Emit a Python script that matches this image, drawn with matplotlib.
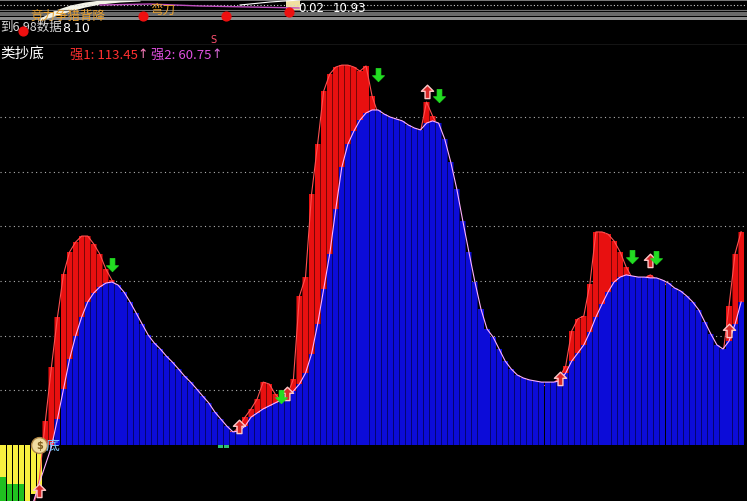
import numpy as np
import matplotlib
matplotlib.use('Agg')
import matplotlib.pyplot as plt
from matplotlib.path import Path

plt.rcParams['font.family'] = ['Noto Sans CJK SC', 'DejaVu Sans']

# ---------------- data ----------------
red_vals = [
    -45, -42, -38, -34, -29, -23, -12.4, 8.8, 28.5, 46.8,
    62.5, 70.6, 74.2, 76.4, 76.4, 73.5, 69.8, 64.3, 60.3, 57,
    53, 48, 44, 40, 36, 33, 31, 29, 27, 24.5,
    22, 20, 17.5, 15, 12.5, 10, 7.5, 5.5, 4.5, 6.6,
    10.2, 13.2, 16.8, 23.0, 22.3, 18.6, 16.1, 18.3, 24.1, 54.5,
    61.4, 91.8, 110, 129.4, 135.6, 138.2, 138.9, 138.9, 138.2, 136.7,
    138.6, 127.6, 121, 118, 116, 115, 114, 113.5, 113, 114.5,
    125.4, 120.3, 116, 108, 98, 87, 75, 63, 53, 45,
    38, 35, 31, 27, 25, 23, 22, 21.5, 21.5, 21.5,
    22, 22.5, 24.9, 28.9, 41.7, 46.1, 47.2, 58.9, 77.9, 77.9,
    77.1, 74.6, 70.6, 65.1, 61, 60.5, 61, 62.2, 60.5, 59.5,
    58, 56, 54, 51.5, 49, 45, 40, 35, 32, 33,
    50.8, 70.0, 78.0,
]
blue_vals = [
    -40, -37, -34, -31, -27, -21, -13.9, -7.3, -0.7, 9.5,
    20.5, 31.4, 39.9, 46.8, 52.3, 55.6, 57.8, 59.2, 59.6, 58.5,
    55.9, 52.3, 48.3, 44.2, 40.2, 37.3, 35.1, 32.5, 30.3, 27.8,
    25.2, 23.0, 20.5, 17.9, 15.4, 12.1, 9.5, 6.9, 4.8, 5.1,
    6.9, 10.2, 11.7, 13.2, 14.3, 15.4, 16.5, 17.9, 19.7, 22.3,
    26.3, 33.3, 44.2, 57.0, 69.8, 86.3, 101.6, 110.0, 114.8, 118.8,
    121.4, 122.5, 122.5, 121.0, 119.9, 119.2, 118.5, 117.0, 115.9, 115.2,
    117.7, 118.5, 117.7, 111.9, 103.5, 93.6, 81.9, 70.6, 59.6, 49.7,
    42.4, 39.5, 35.1, 30.7, 27.8, 25.6, 24.5, 23.8, 23.4, 23.0,
    23.0, 23.0, 23.4, 26.3, 30.7, 33.6, 36.6, 41.3, 46.8, 51.5,
    55.9, 59.6, 61.4, 62.2, 61.8, 61.4, 61.4, 61.1, 61.1, 60.3,
    59.2, 57.4, 56.3, 54.5, 52.3, 49.4, 45.0, 40.6, 36.6, 35.1,
    38.0, 44.2, 52.3,
]
yellow_vals = [-11.7, -14.3, -14.3, -14.3, -24, -18, -16]
green_vals = [-26, -26, -26, -25]
mark_idx = [36, 37]
mark_vals = [-1.1, -1.1]

up_idx = [6, 39, 47, 70, 92, 107, 120]
up_vals = [-16.8, 6.6, 18.6, 129.0, 24.1, 67.3, 41.7]
down_idx = [18, 46, 62, 72, 104, 108]
down_vals = [66.2, 17.9, 135.6, 128.0, 69.1, 68.7]
coin_idx = 6

title = "类抄底"
s1_label = "强1: 113.45"
s2_label = "强2: 60.75"

# top strip (partial upper panel)
price_x = [40, 55, 70, 85, 100, 120, 140]
price_hi = [19, 11, 6, 3, 1, 0, 0]
price_lo = [21, 17, 12, 8, 5, 3, 2]
ma_x = [100, 150, 200, 250, 300]
ma_y = [6, 5, 7, 8, 9]
sig_x = [23, 143, 226, 289]
sig_y = [32, 17, 17, 13]

# ---------------- figure ----------------
W, H = 747, 502
fig = plt.figure(figsize=(W / 100, H / 100), dpi=100, facecolor='black')

px = 20 / 54.7
ax = fig.add_axes([0, 0, 1, 456 / H])
ax.set_facecolor('black')
ax.set_xlim(-0.5, W / 6.05 - 0.5)
ax.set_ylim((446 - 502) * px, (446 - 46) * px)
ax.axis('off')

n = len(red_vals)
idx = np.arange(n)
red = np.array(red_vals, float)
blue = np.array(blue_vals, float)
bw = 0.84

for g in [20, 40, 60, 80, 100, 120]:
    ax.axhline(g, color='#b0b0b0', lw=0.8, ls=(0, (1, 3)), zorder=0.5)

# yellow / green (below zero)
ax.bar(np.arange(len(green_vals)), green_vals, width=bw, color='#20c020', lw=0, zorder=1)
ax.bar(np.arange(len(yellow_vals)), yellow_vals, width=bw, color='#f8f040', lw=0, zorder=1.2)

# red bars: dark underlay + bright bars
red_pos = np.clip(red, 0, None)
ax.bar(idx, red_pos, width=1.0, color='#7a0606', lw=0, zorder=1.8)
ax.bar(idx, red_pos, width=bw, color='#e81010', lw=0, zorder=2)
ax.plot(idx, red, color='#ff5050', lw=0.8, zorder=2.5)

# blue bars: dark underlay + bright bars
blue_pos = np.clip(blue, 0, None)
ax.bar(idx, blue_pos, width=1.0, color='#05056e', lw=0, zorder=2.8)
ax.bar(idx, blue_pos, width=bw, color='#0c0cd8', lw=0, zorder=3)
ax.plot(idx, blue, color='#ffb0ff', lw=0.8, zorder=4)
ax.bar(mark_idx, mark_vals, width=bw, color='#30c070', lw=0, zorder=3)

up_path = Path([(-0.5, 0.1), (0, 0.6), (0.5, 0.1), (0.2, 0.1), (0.2, -0.5),
                (-0.2, -0.5), (-0.2, 0.1), (-0.5, 0.1)], closed=True)
down_path = Path([(x, -y) for x, y in up_path.vertices], closed=True)
ax.scatter(up_idx, up_vals, marker=up_path, s=110, facecolor='#d82828',
           edgecolor='#ffc8c8', linewidths=1.0, zorder=6)
ax.scatter(down_idx, down_vals, marker=down_path, s=110, facecolor='#22dd22',
           edgecolor='#22dd22', linewidths=0.5, zorder=6)

ax.scatter([coin_idx], [0], s=130, facecolor='#f0dca0', edgecolor='#b08848',
           linewidths=1.0, zorder=7)
ax.text(coin_idx, 0, '$', color='#806020', fontsize=7, ha='center', va='center',
        zorder=8, family='DejaVu Sans', fontweight='bold')
ax.text(coin_idx + 1.1, 0, '底', color='#7ec8ff', fontsize=10, ha='left', va='center', zorder=8)

# title row
fig.text(0 / W, 1 - 54 / H, title, color='white', fontsize=10.5, ha='left', va='center')
fig.text(70 / W, 1 - 55 / H, s1_label, color='#ff3030', fontsize=9.5, ha='left', va='center')
fig.text(137 / W, 1 - 54 / H, '↑', color='#ff80c0', fontsize=9, ha='left', va='center', family='DejaVu Sans')
fig.text(151 / W, 1 - 55 / H, s2_label, color='#e050e0', fontsize=9.5, ha='left', va='center')
fig.text(211 / W, 1 - 54 / H, '↑', color='#e070e0', fontsize=9, ha='left', va='center', family='DejaVu Sans')

# ---------------- top strip ----------------
ax2 = fig.add_axes([0, 456 / H, 1, 46 / H])
ax2.set_facecolor('black')
ax2.set_xlim(0, W)
ax2.set_ylim(46, 0)
ax2.axis('off')
ax2.axhline(0.6, color='#909090', lw=1.2)
ax2.axhline(6, color='#d0d0d0', lw=0.8, ls=(0, (1, 2)))
ax2.axhline(11.2, color='#707070', lw=0.8)
ax2.axhspan(12.6, 16.8, color='#6a6a6a', lw=0)
ax2.axhspan(17.6, 20.8, color='#8c8c8c', lw=0)
ax2.axhline(45.6, color='#a0a0a0', lw=0.9)
ax2.fill_between(price_x, price_lo, price_hi, color='#f4f4e8', lw=0)
ax2.plot(ma_x, ma_y, color='#c050c0', lw=1.0)
ax2.plot([240, 270, 300], [6, 3, 1], color='white', lw=0.8)
ax2.add_patch(plt.Rectangle((286, 0), 14, 11, color='#f0e0a0', lw=0))
ax2.scatter(sig_x, sig_y, s=40, color='#ee1010', zorder=5)
ax2.text(30, 16, '竞力争猎背降', color='#e8a030', fontsize=9, ha='left', va='center')
ax2.text(150, 10, '弯刀', color='#e8a030', fontsize=9, ha='left', va='center')
ax2.text(0, 27, '到6.98数据', color='#d8d8d8', fontsize=9, ha='left', va='center')
ax2.text(62, 28, '8.10', color='white', fontsize=9, ha='left', va='center', family='DejaVu Sans')
ax2.text(298, 9, '0.02', color='white', fontsize=8.5, ha='left', va='center', family='DejaVu Sans')
ax2.text(333, 9, '10.93', color='white', fontsize=8.5, ha='left', va='center', family='DejaVu Sans')
ax2.text(213, 40, 'S', color='#ff5070', fontsize=7, ha='center', va='center', family='DejaVu Sans')

fig.savefig('out.png', dpi=100, facecolor='black')
